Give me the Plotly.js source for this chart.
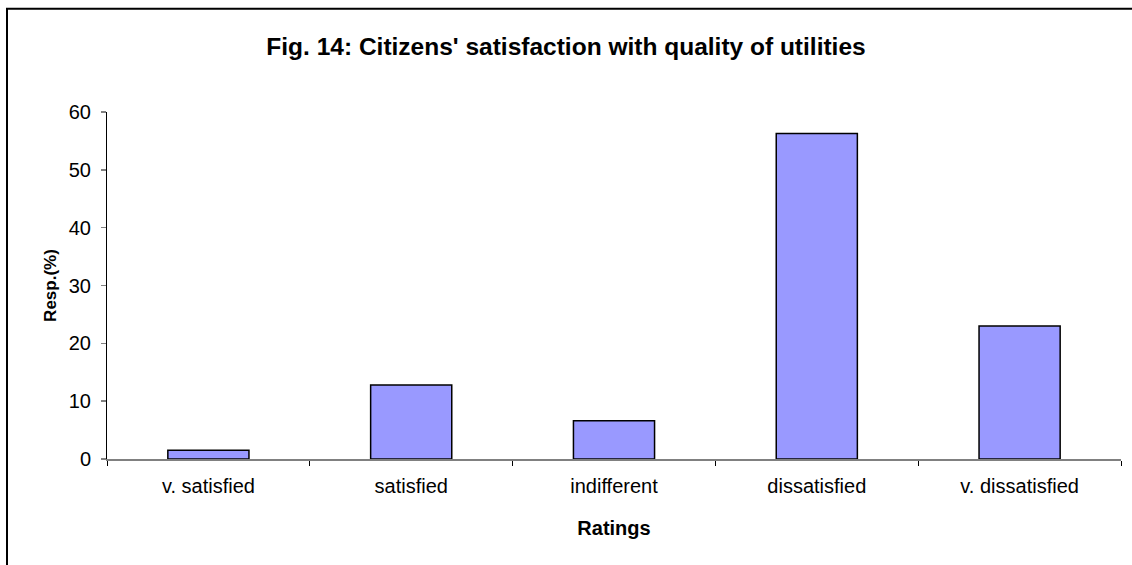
<!DOCTYPE html>
<html>
<head>
<meta charset="utf-8">
<script src="https://cdn.plot.ly/plotly-3.0.1.min.js"></script>
<style>
html,body{margin:0;padding:0;background:#fff;}
#chart{width:1132px;height:565px;}
</style>
</head>
<body>
<div id="chart"></div>
<script>
const categories = ["v. satisfied", "satisfied", "indifferent", "dissatisfied", "v. dissatisfied"];
const values = [1.5, 12.8, 6.6, 56.3, 23.0];
const yTicks = [0, 10, 20, 30, 40, 50, 60];

const trace = {
  type: "bar",
  x: categories,
  y: values,
  marker: {color: "#9999FF", line: {color: "#000000", width: 1.5}},
  hoverinfo: "x+y"
};

const FONT = "Liberation Sans, Arial, sans-serif";

const layout = {
  width: 1132,
  height: 565,
  margin: {l: 107, r: 11, t: 111.5, b: 105.5},
  paper_bgcolor: "#ffffff",
  plot_bgcolor: "#ffffff",
  showlegend: false,
  bargap: 0.6,
  font: {family: FONT, color: "#000000", size: 20},
  title: {
    text: "<b>Fig. 14: Citizens' satisfaction with quality of utilities</b>",
    font: {family: FONT, size: 24.5, color: "#000000"},
    x: 0.5, xref: "container", xanchor: "center",
    y: 1 - 46/565, yref: "container", yanchor: "middle"
  },
  xaxis: {
    type: "category",
    showline: true, linecolor: "#808080", linewidth: 1.5,
    ticks: "outside", tickson: "boundaries", ticklen: 5, tickcolor: "#000000", tickwidth: 1,
    ticklabelstandoff: 8,
    showgrid: false, zeroline: false,
    tickfont: {family: FONT, size: 20, color: "#000000"},
    title: {text: "<b>Ratings</b>", font: {family: FONT, size: 20, color: "#000000"}, standoff: 25}
  },
  yaxis: {
    range: [0, 60],
    tickvals: yTicks,
    ticktext: yTicks.map(String),
    showline: true, linecolor: "#000000", linewidth: 1,
    ticks: "outside", ticklen: 5, tickcolor: "#808080", tickwidth: 1.5,
    ticklabelstandoff: 6,
    showgrid: false, zeroline: false,
    tickfont: {family: FONT, size: 20, color: "#000000"},
    title: {text: "<b>Resp.(%)</b>", font: {family: FONT, size: 17, color: "#000000"}, standoff: 7}
  },
  shapes: [{
    type: "rect", xref: "paper", yref: "paper",
    x0: -100/1014, x1: 1.5, y0: -1, y1: (459.5-8)/348,
    line: {color: "#000000", width: 2},
    layer: "below"
  }]
};

Plotly.newPlot("chart", [trace], layout, {displayModeBar: false, staticPlot: true});
</script>
</body>
</html>
